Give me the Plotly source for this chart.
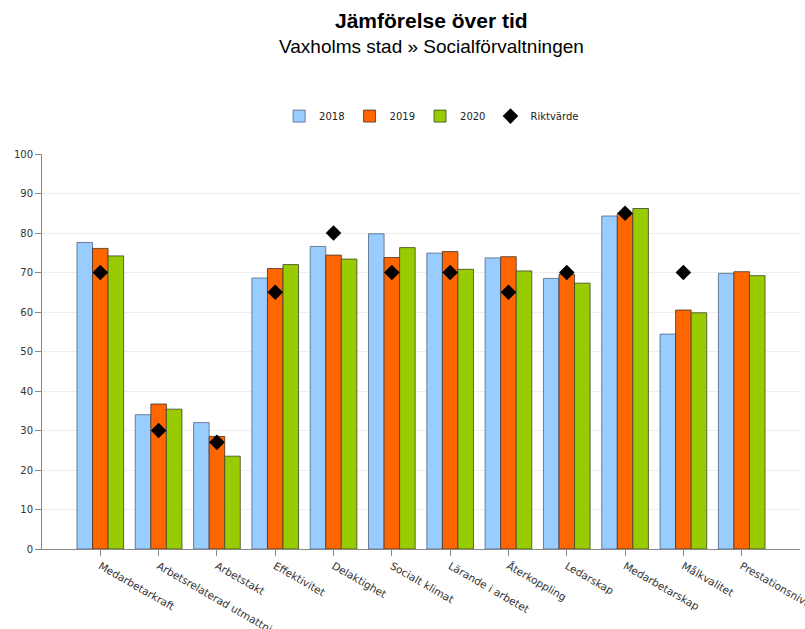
import plotly.graph_objects as go

categories = ["Medarbetarkraft", "Arbetsrelaterad utmattning", "Arbetstakt", "Effektivitet",
              "Delaktighet", "Socialt klimat", "Lärande i arbetet", "Återkoppling",
              "Ledarskap", "Medarbetarskap", "Målkvalitet", "Prestationsnivå"]
v2018 = [77.6, 34.0, 32.0, 68.6, 76.6, 79.8, 74.9, 73.7, 68.5, 84.3, 54.4, 69.8]
v2019 = [76.1, 36.7, 28.5, 71.0, 74.4, 73.8, 75.3, 74.0, 69.5, 85.0, 60.5, 70.2]
v2020 = [74.2, 35.4, 23.5, 72.0, 73.4, 76.3, 70.8, 70.4, 67.3, 86.2, 59.8, 69.2]
riktvarde = [70, 30, 27, 65, 80, 70, 70, 65, 70, 85, 70, None]
y_ticks = [0, 10, 20, 30, 40, 50, 60, 70, 80, 90, 100]

FONT = "DejaVu Sans"

fig = go.Figure()
series = [("2018", v2018, "#99CCFF", "rgba(80,100,130,0.8)"),
          ("2019", v2019, "#FF6600", "rgba(70,50,40,0.8)"),
          ("2020", v2020, "#99CC00", "rgba(60,70,40,0.8)")]
for name, vals, col, lc in series:
    fig.add_trace(go.Bar(x=categories, y=vals, name=name,
                         marker=dict(color=col, line=dict(color=lc, width=1))))

fig.add_trace(go.Scatter(x=categories, y=riktvarde, name="Riktvärde", mode="markers",
                         marker=dict(symbol="diamond", size=12, color="black")))

fig.update_layout(
    width=805, height=629,
    margin=dict(l=42, r=5, t=154, b=80, autoexpand=False),
    paper_bgcolor="white", plot_bgcolor="white",
    barmode="group", bargap=0.2, bargroupgap=0,
    font=dict(family=FONT, size=10, color="#333"),
    showlegend=True,
    legend=dict(orientation="h", x=0.514, xanchor="center", y=1.096, yanchor="middle",
                font=dict(family=FONT, size=10, color="#222"), traceorder="normal"),
    annotations=[
        dict(text="<b>Jämförelse över tid</b>", xref="paper", yref="paper", x=0.514, y=1.339,
             xanchor="center", yanchor="middle", showarrow=False,
             font=dict(family="Liberation Sans", size=21, color="black")),
        dict(text="Vaxholms stad » Socialförvaltningen", xref="paper", yref="paper", x=0.514, y=1.271,
             xanchor="center", yanchor="middle", showarrow=False,
             font=dict(family="Liberation Sans", size=19, color="black")),
    ],
)
fig.update_xaxes(type="category", range=[-1, 12], showline=True, linecolor="#888", linewidth=1,
                 ticks="outside", ticklen=6, tickcolor="#888", tickangle=30, automargin=False,
                 tickfont=dict(family=FONT, size=10.5, color="#333"), showgrid=False)
fig.update_yaxes(range=[0, 100], tickvals=y_ticks, showline=True, linecolor="#888", linewidth=1,
                 ticks="outside", ticklen=6, tickcolor="#888", gridcolor="#eeeeee", automargin=False,
                 tickfont=dict(family=FONT, size=10, color="#333"), zeroline=False)

fig.write_html("out.html")
